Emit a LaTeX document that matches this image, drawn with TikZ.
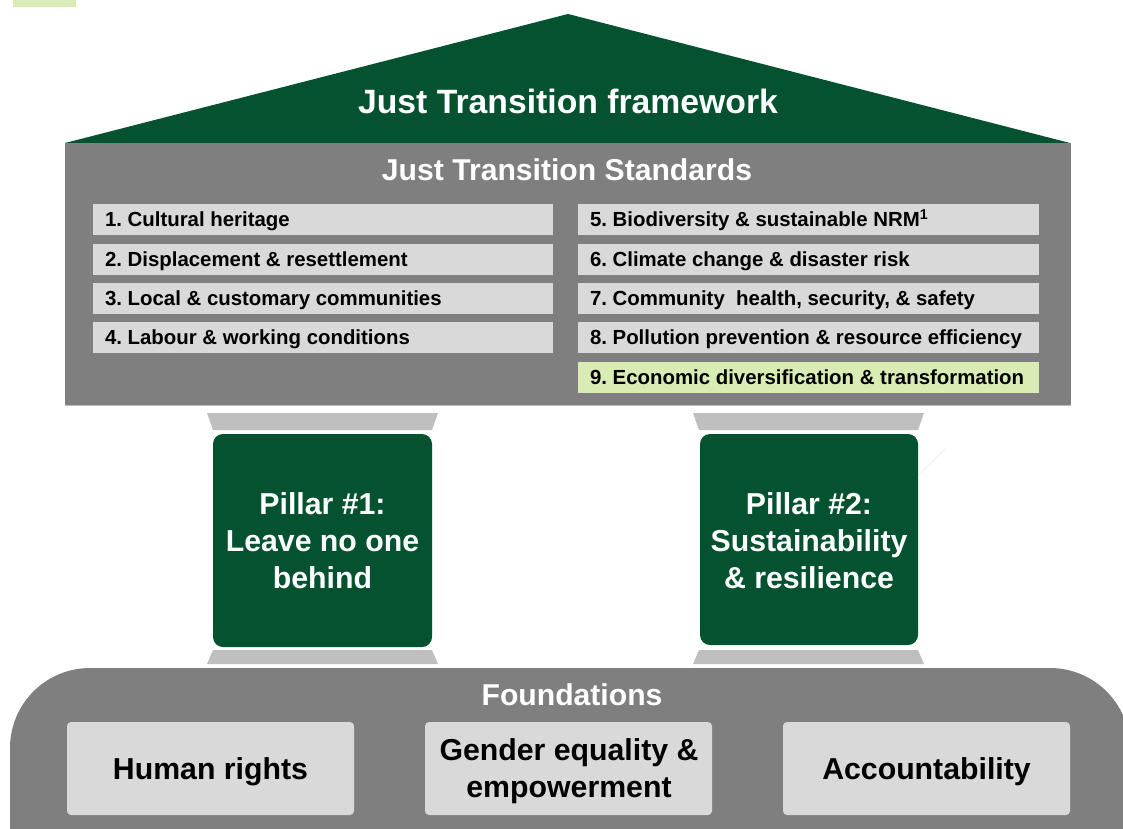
\documentclass[tikz,border=0pt]{standalone}
\usepackage{fontspec}
\setmainfont{Liberation Sans}
\frenchspacing
\definecolor{jtgreen}{HTML}{045230}
\definecolor{jtgray}{HTML}{7F7F7F}
\definecolor{jtlight}{HTML}{D9D9D9}
\definecolor{jtcap}{HTML}{BFBFBF}
\definecolor{jtlime}{HTML}{D8ECB4}
\tikzset{
  itembox/.style={fill=jtlight, inner sep=0pt, minimum height=23.25pt, anchor=center},
  itemlime/.style={itembox, fill=jtlime},
  itemtext/.style={anchor=base west, inner sep=0pt, font=\fontsize{15.3}{18}\selectfont\bfseries, text=black},
  pillarbox/.style={fill=jtgreen, rounded corners=7.5pt, inner sep=0pt},
  pillartext/.style={text=white, align=center, font=\fontsize{22.7}{27.75}\selectfont\bfseries, inner sep=0pt},
  foundbox/.style={fill=jtlight, rounded corners=3pt, minimum width=215.25pt, minimum height=69.75pt, inner sep=0pt},
  foundtext/.style={align=center, font=\fontsize{22.7}{27.75}\selectfont\bfseries, text=black, inner sep=0pt},
  heading/.style={text=white, font=\fontsize{22.6}{26}\selectfont\bfseries},
  capshape/.style={fill=jtcap},
}
\begin{document}
\begin{tikzpicture}[x=0.75pt,y=-0.75pt]
\useasboundingbox (0,0) rectangle (1123,828);
\clip (0,0) rectangle (1123,828);
% small lime marker
\fill[jtlime] (13,0) rectangle (76,7);
% roof
\fill[jtgreen] (65,143) -- (568,14) -- (1070,143) -- cycle;
\node[heading, font=\fontsize{25.3}{30}\selectfont\bfseries] (title) at (568,101) {Just Transition framework};
% standards box
\fill[jtgray] (65,143) rectangle (1071,405);
\draw[jtcap, line width=0.75pt] (65,405) -- (1071,405);
\node[heading] (stdtitle) at (567,170) {Just Transition Standards};
% items left
\node[itembox, minimum width=345pt] (s1) at (323,219.5) {};
\node[itembox, minimum width=345pt] (s2) at (323,259) {};
\node[itembox, minimum width=345pt] (s3) at (323,298.5) {};
\node[itembox, minimum width=345pt] (s4) at (323,337.5) {};
% items right
\node[itembox, minimum width=345.75pt] (s5) at (808.5,219.5) {};
\node[itembox, minimum width=345.75pt] (s6) at (808.5,259) {};
\node[itembox, minimum width=345.75pt] (s7) at (808.5,298.5) {};
\node[itembox, minimum width=345.75pt] (s8) at (808.5,337.5) {};
\node[itemlime, minimum width=345.75pt] (s9) at (808.5,377.5) {};
\foreach \n/\t in {s1/{1. Cultural heritage}, s2/{2. Displacement \& resettlement},
  s3/{3. Local \& customary communities}, s4/{4. Labour \& working conditions},
  s5/{5. Biodiversity \& sustainable NRM\textsuperscript{1}}, s6/{6. Climate change \& disaster risk},
  s7/{7. Community\ \ health, security, \& safety}, s8/{8. Pollution prevention \& resource efficiency},
  s9/{9. Economic diversification \& transformation}}
  \node[itemtext] (\n t) at ([xshift=9pt,yshift=-5.4pt]\n.west) {\t};
% pillar 1
\fill[capshape] (207,413) -- (438,413) -- (432,430) -- (213,430) -- cycle;
\node[pillarbox, minimum width=164.25pt, minimum height=159.75pt] (p1) at (322.5,540.5) {};
\node[pillartext] (p1t) at (322.5,541) {Pillar \#1:\\Leave no one\\behind};
\fill[capshape] (213,650) -- (432,650) -- (438,664) -- (207,664) -- cycle;
% pillar 2
\fill[capshape] (693,413) -- (924,413) -- (918,430) -- (699,430) -- cycle;
\node[pillarbox, minimum width=163.5pt, minimum height=158.25pt] (p2) at (809,539.5) {};
\node[pillartext] (p2t) at (809,541) {Pillar \#2:\\Sustainability\\\& resilience};
\fill[capshape] (699,650) -- (918,650) -- (924,664) -- (693,664) -- cycle;
\draw[black!9, line width=0.5pt] (919,475) -- (945,449);
% foundations
\fill[jtgray, rounded corners=60pt] (10,668) rectangle (1130,960);
\node[heading] (ftitle) at (572,695) {Foundations};
\node[foundbox] (f1) at (210.5,768.5) {};
\node[foundbox] (f2) at (568.5,768.5) {};
\node[foundbox] (f3) at (926.5,768.5) {};
\node[foundtext] (f1t) at (210.5,772) {Human rights};
\node[foundtext] (f2t) at (569,771.5) {Gender equality \&\\empowerment};
\node[foundtext] (f3t) at (926.5,772) {Accountability};
\end{tikzpicture}
\end{document}
